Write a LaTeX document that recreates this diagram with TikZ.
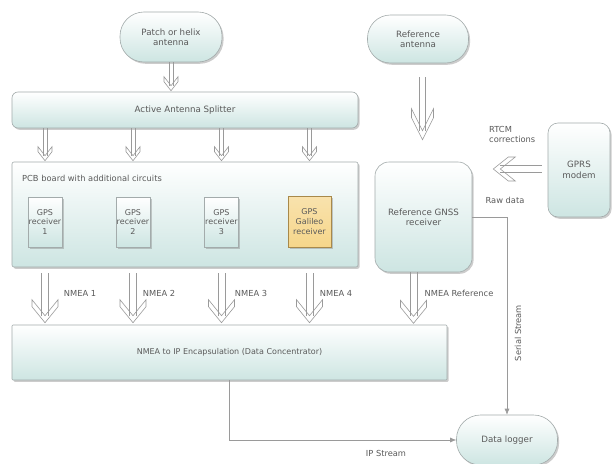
\documentclass[tikz,border=0pt]{standalone}
\usepackage{fontspec}
\setmainfont{DejaVu Sans}
\usetikzlibrary{shadows,calc,arrows.meta}
\definecolor{txt}{HTML}{5A5A5A}
\definecolor{edge}{HTML}{A3ABAB}
\definecolor{mint}{HTML}{CDE5E2}
\definecolor{ybox}{HTML}{F6D68A}
\definecolor{yedge}{HTML}{A8894A}
\definecolor{ln}{HTML}{9A9A9A}
\tikzset{
  box/.style={draw=edge, line width=0.6pt, top color=white, bottom color=mint,
    drop shadow={shadow xshift=1.6pt, shadow yshift=-1.8pt, opacity=0.4},
    text=txt, font=\fontsize{8.7}{10.4}\selectfont, align=center, inner sep=0pt},
  rbox/.style={box, font=\fontsize{8}{9.6}\selectfont},
  ybox/.style={rbox, top color=ybox!70!white, bottom color=ybox, draw=yedge},
  lbl/.style={text=txt, font=\fontsize{8.3}{10}\selectfont, inner sep=0pt, align=left},
  hollow/.style={draw=ln, line width=0.6pt, fill=white, line join=miter},
  wire/.style={draw=ln, line width=0.6pt, -{Latex[length=6pt,width=5pt]}}
}
% vertical downward hollow arrow:
% #1 from, #2 to, #3 half shaft, #4 half head, #5 head length, #6 chevron thickness
\newcommand\harrowv[6]{%
  \draw[hollow] let \p1=(#1), \p2=(#2) in
    (\x1-#4pt,\y2+#5pt) -- (\x1,\y2) -- (\x1+#4pt,\y2+#5pt) -- (\x1+#4pt,\y2+#5pt+#6pt)
    -- (\x1,\y2+#6pt) -- (\x1-#4pt,\y2+#5pt+#6pt) -- cycle;
  \draw[hollow] let \p1=(#1), \p2=(#2) in
    (\x1-#3pt,\y1) -- (\x1-#3pt,\y2+#6pt) (\x1+#3pt,\y2+#6pt) -- (\x1+#3pt,\y1);}
% horizontal leftward hollow arrow
\newcommand\harrowh[6]{%
  \draw[hollow] let \p1=(#1), \p2=(#2) in
    (\x2+#5pt,\y1+#4pt) -- (\x2,\y1) -- (\x2+#5pt,\y1-#4pt) -- (\x2+#5pt+#6pt,\y1-#4pt)
    -- (\x2+#6pt,\y1) -- (\x2+#5pt+#6pt,\y1+#4pt) -- cycle;
  \draw[hollow] let \p1=(#1), \p2=(#2) in
    (\x1,\y1+#3pt) -- (\x2+#6pt,\y1+#3pt) (\x2+#6pt,\y1-#3pt) -- (\x1,\y1-#3pt);}
\begin{document}
\begin{tikzpicture}[x=1pt,y=-1pt]
\useasboundingbox[fill=white] (0,0) rectangle (612,463);

% nodes
\node[box, minimum width=102pt, minimum height=50pt, rounded corners=24pt] (patch) at (171,37) {Patch or helix\\antenna};
\node[box, minimum width=101pt, minimum height=48pt, rounded corners=23pt] (refant) at (418,39) {Reference\\antenna};
\node[box, minimum width=346pt, minimum height=36pt, rounded corners=6pt] (split) at (185,110) {Active Antenna Splitter};
\node[box, minimum width=346pt, minimum height=105pt, rounded corners=2pt] (pcb) at (185,214.5) {};
\node[lbl, anchor=west] (pcblbl) at (22,178) {PCB board with additional circuits};
\node[rbox, minimum width=34pt, minimum height=50pt] (g1) at (45,222) {GPS\\receiver\\1};
\node[rbox, minimum width=34pt, minimum height=50pt] (g2) at (133,222) {GPS\\receiver\\2};
\node[rbox, minimum width=34pt, minimum height=50pt] (g3) at (221.5,222) {GPS\\receiver\\3};
\node[ybox, minimum width=43pt, minimum height=51pt] (g4) at (309.5,221.5) {GPS\\Galileo\\receiver};
\node[box, minimum width=97pt, minimum height=110pt, rounded corners=14pt] (refrx) at (423.5,217) {Reference GNSS\\receiver};
\node[box, minimum width=62pt, minimum height=94pt, rounded corners=10pt] (gprs) at (579,170) {GPRS\\modem};
\node[rbox, minimum width=435pt, minimum height=55pt, rounded corners=1pt] (nmea) at (229.5,352.5) {NMEA to IP Encapsulation (Data Concentrator)};
\node[box, minimum width=101pt, minimum height=50pt, rounded corners=24pt] (logger) at (507,440) {Data logger};

% hollow arrows
\harrowv{patch.south}{$(split.north)+(0,-1)$}{2}{7}{9}{5}
\foreach \g in {g1,g2,g3,g4}{
  \harrowv{\g |- split.south}{$(\g |- pcb.north)+(0,-1)$}{2}{7}{9}{5}
  \harrowv{$(\g |- pcb.south)+(0,6)$}{$(\g |- nmea.north)+(0,-2)$}{3.5}{13}{16}{7}
}
\harrowv{$(refrx.south)+(-10,0)$}{$(refrx.south)+(-10,51)$}{3.5}{13}{16}{7}
\harrowv{$(refant.south)+(4.5,14)$}{$(refrx.north)+(0,-22)$}{3}{11}{22}{9}
\harrowh{$(gprs.west)+(-6,-1)$}{$(refrx.east)+(21,-48)$}{3.5}{12}{15}{7}

% wires
\draw[wire] (refrx.east) -| (logger.north);
\draw[wire] (nmea.south) |- (logger.west);

% labels
\node[lbl] (n1) at (80,293) {NMEA 1};
\node[lbl] (n2) at (159,293) {NMEA 2};
\node[lbl] (n3) at (251,293) {NMEA 3};
\node[lbl] (n4) at (336,293) {NMEA 4};
\node[lbl] (nr) at (459,293) {NMEA Reference};
\node[lbl, anchor=west] (rtcm) at (489,134) {RTCM\\corrections};
\node[lbl] (raw) at (505,200) {Raw data};
\node[lbl, rotate=90] (ser) at (518,333) {Serial Stream};
\node[lbl] (ip) at (386,453) {IP Stream};
\end{tikzpicture}
\end{document}
